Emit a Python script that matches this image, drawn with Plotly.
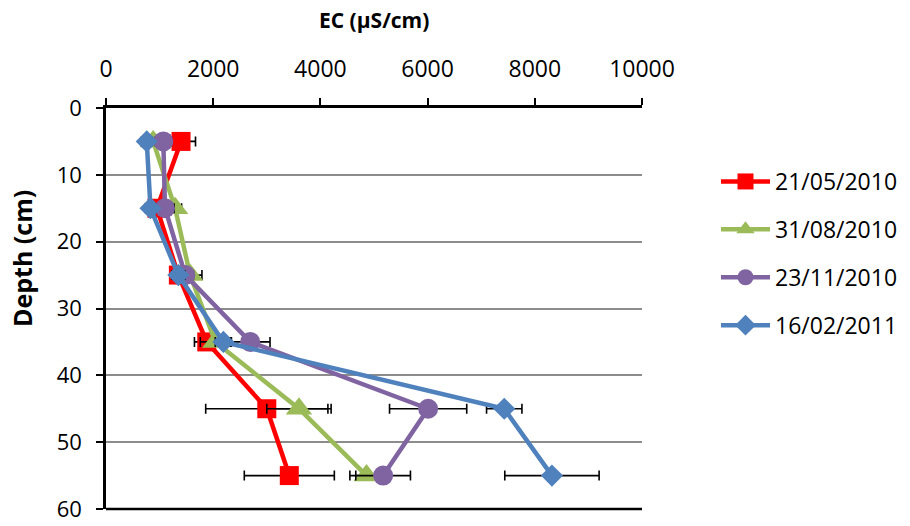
import plotly.graph_objects as go

# Sampling depths (cm)
depth = [5, 15, 25, 35, 45, 55]

# Electrical conductivity profiles (µS/cm) and their standard deviations
dates = ["21/05/2010", "31/08/2010", "23/11/2010", "16/02/2011"]
ec_may10 = [1400, 950, 1350, 1880, 3000, 3420]
sd_may10 = [270, 120, 150, 230, 1140, 840]
ec_aug10 = [880, 1290, 1570, 2040, 3600, 4860]
sd_aug10 = [100, 120, 220, 280, 600, 310]
ec_nov10 = [1070, 1100, 1480, 2690, 6010, 5170]
sd_nov10 = [150, 170, 150, 370, 720, 510]
ec_feb11 = [760, 830, 1350, 2190, 7430, 8320]
sd_feb11 = [100, 100, 120, 150, 330, 880]

x_ticks = [0, 2000, 4000, 6000, 8000, 10000]
y_ticks = [0, 10, 20, 30, 40, 50, 60]

colors = ["#FF0000", "#9BBB59", "#8064A2", "#4F81BD"]
symbols = ["square", "triangle-up", "circle", "diamond"]
sizes = [19, 23, 20, 17]

series = [(ec_may10, sd_may10), (ec_aug10, sd_aug10),
          (ec_nov10, sd_nov10), (ec_feb11, sd_feb11)]

FONT = "Open Sans"

fig = go.Figure()
for i, (vals, sd) in enumerate(series):
    fig.add_trace(go.Scatter(
        x=vals, y=depth, name=dates[i], legendgroup=dates[i],
        mode="lines+markers",
        line=dict(color=colors[i], width=4.5),
        marker=dict(symbol=symbols[i], size=sizes[i], color=colors[i],
                    line=dict(width=0)),
        error_x=dict(type="data", array=sd, visible=True,
                     color="black", thickness=1.6, width=5),
    ))

fig.update_layout(
    width=910, height=526,
    margin=dict(l=106, r=268, t=108, b=17, autoexpand=False),
    paper_bgcolor="white", plot_bgcolor="white",
    font=dict(family=FONT, size=23, color="black"),
    showlegend=True,
    legend=dict(
        xref="container", yref="container",
        x=716 / 910, y=1 - 160 / 526, xanchor="left", yanchor="top",
        font=dict(family=FONT, size=23, color="black"),
        tracegroupgap=15, traceorder="grouped", itemwidth=49,
        bgcolor="rgba(0,0,0,0)",
    ),
    xaxis=dict(
        side="top", range=[0, 10000], tickvals=x_ticks,
        ticktext=[str(v) for v in x_ticks],
        showgrid=False, zeroline=False, automargin=False, mirror=False,
        showline=True, linecolor="black", linewidth=2.5,
        ticks="outside", ticklen=7, tickwidth=2, tickcolor="black",
        tickfont=dict(family=FONT, size=23),
        ticklabelstandoff=12,
    ),
    yaxis=dict(
        range=[60, 0], tickvals=y_ticks,
        showgrid=True, gridcolor="#8C8C8C", gridwidth=2,
        zeroline=False, automargin=False, mirror=False,
        showline=True, linecolor="black", linewidth=2.5,
        ticks="outside", ticklen=7, tickwidth=2, tickcolor="black",
        tickfont=dict(family=FONT, size=22),
        ticklabelstandoff=10, ticklabeloverflow="allow",
    ),
    shapes=[
        # bottom frame edge of the plotting area
        dict(type="line", xref="paper", yref="paper",
             x0=0, x1=1, y0=0, y1=0,
             line=dict(color="black", width=2.5)),
    ],
    annotations=[
        dict(text="<b>EC (µS/cm)</b>", xref="paper", yref="paper",
             x=0.5, y=1, yshift=88, showarrow=False,
             xanchor="center", yanchor="middle",
             font=dict(family=FONT, size=21)),
        dict(text="<b>Depth (cm)</b>", xref="paper", yref="paper",
             x=0, y=(509 - 259) / 401, xshift=-84, showarrow=False,
             textangle=-90, xanchor="center", yanchor="middle",
             font=dict(family=FONT, size=25)),
    ],
)

fig.write_html("out.html")
